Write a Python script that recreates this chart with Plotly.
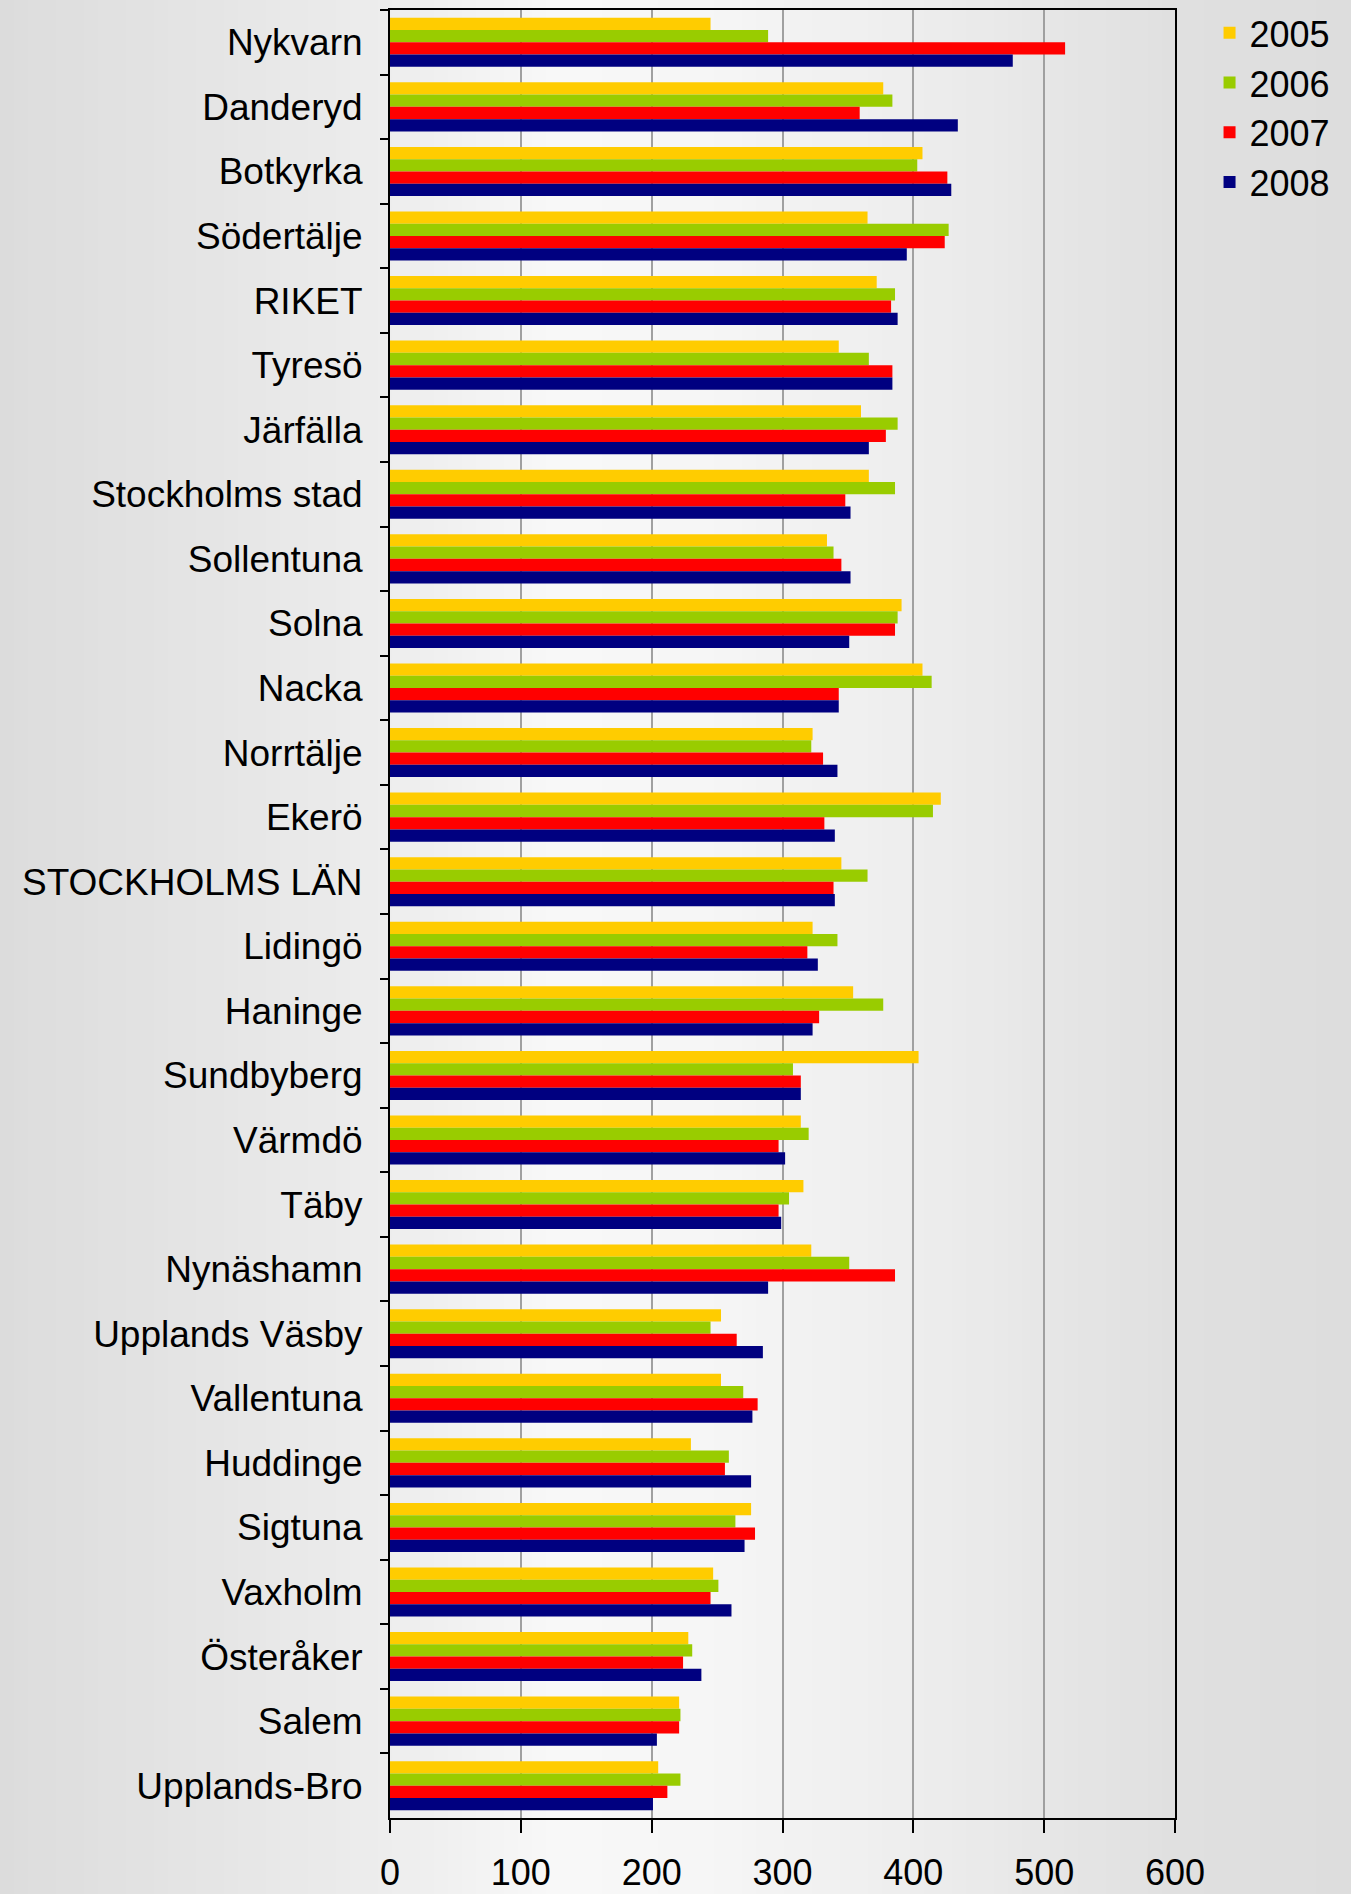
import plotly.graph_objects as go

categories = ["Nykvarn", "Danderyd", "Botkyrka", "Södertälje", "RIKET", "Tyresö", "Järfälla",
              "Stockholms stad", "Sollentuna", "Solna", "Nacka", "Norrtälje", "Ekerö",
              "STOCKHOLMS LÄN", "Lidingö", "Haninge", "Sundbyberg", "Värmdö", "Täby",
              "Nynäshamn", "Upplands Väsby", "Vallentuna", "Huddinge", "Sigtuna", "Vaxholm",
              "Österåker", "Salem", "Upplands-Bro"]

v2005 = [245, 377, 407, 365, 372, 343, 360, 366, 334, 391, 407, 323, 421, 345, 323, 354, 404, 314,
         316, 322, 253, 253, 230, 276, 247, 228, 221, 205]
v2006 = [289, 384, 403, 427, 386, 366, 388, 386, 339, 388, 414, 322, 415, 365, 342, 377, 308, 320,
         305, 351, 245, 270, 259, 264, 251, 231, 222, 222]
v2007 = [516, 359, 426, 424, 383, 384, 379, 348, 345, 386, 343, 331, 332, 339, 319, 328, 314, 297,
         297, 386, 265, 281, 256, 279, 245, 224, 221, 212]
v2008 = [476, 434, 429, 395, 388, 384, 366, 352, 352, 351, 343, 342, 340, 340, 327, 323, 314, 302,
         299, 289, 285, 277, 276, 271, 261, 238, 204, 201]

series_names = ["2005", "2006", "2007", "2008"]
series_values = [v2005, v2006, v2007, v2008]
colors = ["#FFCC00", "#99CC00", "#FF0000", "#000080"]

x_ticks = [0, 100, 200, 300, 400, 500, 600]

W, H = 1351, 1894
ML, MR, MT, MB = 390, 176, 10, 76
PW = W - ML - MR
PH = H - MT - MB

fig = go.Figure()
for name, vals, c in zip(series_names, series_values, colors):
    fig.add_trace(go.Bar(
        y=categories, x=vals, name=name, orientation="h",
        marker=dict(color=c, line=dict(width=0)),
    ))

# background gradient (style only)
stops = [(0, 220), (390, 237), (560, 248), (700, 246), (900, 238), (1172, 224), (1351, 221)]


def gray(px):
    for (a, ga), (b, gb) in zip(stops[:-1], stops[1:]):
        if a <= px <= b:
            return ga + (gb - ga) * (px - a) / (b - a)
    return stops[-1][1]


shapes = []
step = 14
px = 0
while px < W:
    g = int(round(gray(px + step / 2)))
    shapes.append(dict(type="rect", xref="paper", yref="paper", layer="below",
                       x0=(px - ML) / PW, x1=(px + step + 1 - ML) / PW,
                       y0=-0.2, y1=1.2, line=dict(width=0),
                       fillcolor=f"rgb({g},{g},{g})"))
    px += step

fig.update_layout(
    width=W, height=H, autosize=False,
    margin=dict(l=ML, r=MR, t=MT, b=MB, pad=0, autoexpand=False),
    paper_bgcolor="rgb(230,230,230)",
    plot_bgcolor="rgba(0,0,0,0)",
    barmode="group", bargap=0.24, bargroupgap=0,
    font=dict(family="Liberation Sans, Arial, sans-serif", size=37, color="black"),
    shapes=shapes,
    legend=dict(x=1.044, y=1.004, xanchor="left", yanchor="top",
                font=dict(size=36), bgcolor="rgba(0,0,0,0)",
                itemwidth=30, tracegroupgap=0),
    xaxis=dict(range=[0, 600], tickvals=x_ticks, ticktext=[str(t) for t in x_ticks],
               showgrid=True, gridcolor="#a0a0a0", gridwidth=1.5, zeroline=False,
               showline=True, linecolor="black", linewidth=2, mirror=True,
               ticks="outside", ticklen=13, tickwidth=2, tickcolor="black",
               ticklabelstandoff=9, tickfont=dict(size=36)),
    yaxis=dict(autorange="reversed", type="category", tickson="boundaries",
               showgrid=False, showline=True, linecolor="black", linewidth=2, mirror=True,
               ticks="outside", ticklen=8, tickwidth=2, tickcolor="black",
               ticklabelstandoff=18, tickfont=dict(size=37)),
)

fig.write_html("out.html",
               config={"displayModeBar": False},
               post_script="document.body.style.margin='0';document.body.style.overflow='hidden';")
